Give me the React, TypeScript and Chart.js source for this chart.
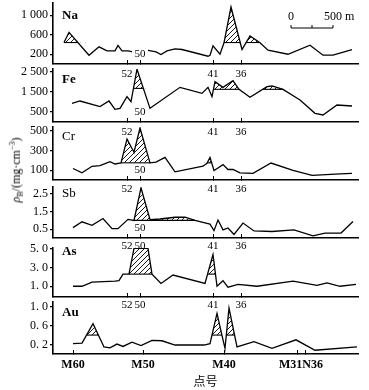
import React, { useEffect, useRef } from 'react';
import { Chart, registerables } from 'chart.js';

Chart.register(...registerables);

const SERIF = "'Liberation Serif', 'DejaVu Serif', serif";

// ---- x positions of samples along the profile (axis units) and element values ----
const NA_X = [11, 16, 36, 46, 54, 62, 65, 69, 75, 80, 94, 103, 108, 114, 122, 129, 155, 157, 160, 167, 171, 178, 189, 197, 207, 215, 235, 257, 270, 280, 299];
const NA_Y = [440, 649, 179, 351, 268, 268, 380, 268, 268, 248, 283, 248, 194, 268, 310, 297, 159, 180, 372, 200, 434, 1167, 297, 573, 434, 283, 200, 386, 180, 180, 297];

const FE_X = [19, 27, 47, 56, 62, 67, 74, 78, 84, 97, 127, 149, 155, 159, 162, 170, 180, 186, 197, 214, 219, 230, 247, 262, 270, 284, 299];
const FE_Y = [935, 1050, 767, 1050, 633, 683, 1267, 1017, 2640, 683, 1733, 1433, 1733, 1267, 2017, 1733, 2067, 1633, 1233, 1767, 1800, 1633, 1100, 433, 350, 850, 800];

const CR_X = [20, 29, 39, 47, 57, 62, 68, 74, 81, 87, 97, 103, 112, 122, 150, 154, 157, 161, 165, 170, 175, 180, 187, 200, 218, 240, 259, 287, 299];
const CR_Y = [117, 73, 140, 147, 187, 163, 175, 417, 283, 530, 175, 183, 230, 83, 140, 170, 230, 97, 123, 157, 107, 107, 73, 67, 173, 97, 47, 63, 67];

const SB_X = [20, 29, 39, 50, 59, 65, 75, 81, 88, 97, 107, 122, 132, 142, 154, 157, 161, 165, 170, 175, 181, 190, 201, 219, 241, 260, 272, 288, 300];
const SB_Y = [0.59, 0.92, 0.72, 1.11, 0.53, 0.53, 1.06, 1.0, 2.85, 1.05, 1.08, 1.18, 1.18, 1.0, 0.83, 0.79, 0.42, 1.02, 0.46, 0.57, 0.2, 0.85, 0.4, 0.37, 0.46, 0.12, 0.28, 0.28, 0.94];

const AS_X = [20, 29, 39, 62, 66, 70, 76, 81, 95, 99, 108, 120, 152, 160, 164, 170, 175, 185, 204, 240, 264, 274, 287, 303];
const AS_Y = [1.0, 1.0, 1.45, 1.55, 1.6, 2.3, 2.3, 5.05, 5.05, 2.3, 1.3, 2.2, 1.3, 4.4, 1.0, 1.6, 0.9, 1.2, 1.0, 1.55, 1.1, 1.37, 1.0, 1.2];

const AU_X = [20, 29, 40, 51, 57, 64, 70, 79, 88, 99, 109, 122, 151, 157, 164, 170, 172, 176, 184, 201, 219, 243, 262, 304];
const AU_Y = [0.22, 0.23, 0.64, 0.15, 0.13, 0.21, 0.16, 0.25, 0.18, 0.29, 0.28, 0.19, 0.19, 0.22, 0.86, 0.3, 0.12, 0.97, 0.15, 0.26, 0.12, 0.3, 0.08, 0.15];

// ---- anomaly (hatched) ranges: [from x, to x, threshold] ----
const NA_HATCH = [[11, 36, 440], [167, 189, 440], [189, 215, 440]];
const FE_HATCH = [[78, 97, 1680], [159, 186, 1633], [197, 247, 1633]];
const CR_HATCH = [[68, 97, 175], [150, 161, 175]];
const SB_HATCH = [[81, 142, 1.0]];
const AS_HATCH = [[76, 99, 2.3], [152, 164, 2.3]];
const AU_HATCH = [[29, 51, 0.4], [157, 172, 0.4], [172, 184, 0.4]];

// ---- y ticks ----
const NA_TICKS = [200, 600, 1000];
const NA_TICK_LABELS = ['200', '600', '1 000'];
const FE_TICKS = [500, 1500, 2500];
const FE_TICK_LABELS = ['500', '1 500', '2 500'];
const CR_TICKS = [100, 300, 500];
const CR_TICK_LABELS = ['100', '300', '500'];
const SB_TICKS = [0.5, 1.5, 2.5];
const SB_TICK_LABELS = ['0.5', '1.5', '2.5'];
const AS_TICKS = [1, 3, 5];
const AS_TICK_LABELS = ['1. 0', '3. 0', '5. 0'];
const AU_TICKS = [0.2, 0.6, 1.0];
const AU_TICK_LABELS = ['0. 2', '0. 6', '1. 0'];

// ---- sample point markers & bottom axis ----
const MARKER_X = [74, 87, 160, 188];
const MARKER_LABELS = ['52', '50', '41', '36'];
const AXIS_TICKS = [20, 90, 171, 244, 252];
const AXIS_LABEL_X = [20, 90, 171, 248];
const AXIS_LABELS = ['M60', 'M50', 'M40', 'M31N36'];
const X_MIN = 0;
const X_MAX = 305;
const SCALE_BAR_FROM = 238;
const SCALE_BAR_LEN = 42; // = 500 m

const PAD_TOP = 10;
const PAD_BOTTOM = 10;
const AU_AXIS_H = 35;

type Panel = {
  name: string; bold: boolean; xs: number[]; ys: number[]; hatches: number[][];
  min: number; max: number; ticks: number[]; tickLabels: string[];
  top: number; bottom: number; nameDy: number; topLabels: string[]; topDy: number;
  bottom50: boolean; last?: boolean; scaleBar?: boolean;
};

const PANELS: Panel[] = [
  { name: 'Na', bold: true, xs: NA_X, ys: NA_Y, hatches: NA_HATCH, min: 0, max: 1250, ticks: NA_TICKS, tickLabels: NA_TICK_LABELS, top: 3, bottom: 64, nameDy: 13, topLabels: [], topDy: 0, bottom50: true, scaleBar: true },
  { name: 'Fe', bold: true, xs: FE_X, ys: FE_Y, hatches: FE_HATCH, min: 0, max: 2650, ticks: FE_TICKS, tickLabels: FE_TICK_LABELS, top: 69, bottom: 122, nameDy: 11, topLabels: ['52', '41', '36'], topDy: 5.5, bottom50: true },
  { name: 'Cr', bold: false, xs: CR_X, ys: CR_Y, hatches: CR_HATCH, min: 0, max: 540, ticks: CR_TICKS, tickLabels: CR_TICK_LABELS, top: 127, bottom: 180, nameDy: 10, topLabels: ['52', '41', '36'], topDy: 5, bottom50: true },
  { name: 'Sb', bold: false, xs: SB_X, ys: SB_Y, hatches: SB_HATCH, min: 0, max: 2.9, ticks: SB_TICKS, tickLabels: SB_TICK_LABELS, top: 187, bottom: 238, nameDy: 7, topLabels: ['52', '41', '36'], topDy: 1.7, bottom50: true },
  { name: 'As', bold: true, xs: AS_X, ys: AS_Y, hatches: AS_HATCH, min: -0.15, max: 5.1, ticks: AS_TICKS, tickLabels: AS_TICK_LABELS, top: 248, bottom: 297, nameDy: 4, topLabels: ['52', '50', '41', '36'], topDy: -2, bottom50: false },
  { name: 'Au', bold: true, xs: AU_X, ys: AU_Y, hatches: AU_HATCH, min: 0, max: 1.1, ticks: AU_TICKS, tickLabels: AU_TICK_LABELS, top: 302, bottom: 354, nameDy: 11, topLabels: ['52', '50', '41', '36'], topDy: 2.7, bottom50: false, last: true },
];

function canvasHeight(p: Panel) {
  return PAD_TOP + (p.bottom - p.top) + (p.last ? AU_AXIS_H : PAD_BOTTOM);
}

function makeHatch(): CanvasPattern | string {
  const s = 5;
  const c = document.createElement('canvas');
  c.width = s; c.height = s;
  const g = c.getContext('2d');
  if (!g) return '#888';
  g.strokeStyle = '#000';
  g.lineWidth = 0.9;
  g.beginPath();
  g.moveTo(0, s); g.lineTo(s, 0);
  g.moveTo(-1, 1); g.lineTo(1, -1);
  g.moveTo(s - 1, s + 1); g.lineTo(s + 1, s - 1);
  g.stroke();
  return g.createPattern(c, 'repeat') || '#888';
}

type Pt = { x: number; y: number };
const lerpX = (p: Pt, q: Pt, lvl: number) => p.x + ((lvl - p.y) * (q.x - p.x)) / (q.y - p.y);

function crossings(pts: Pt[], a: number, b: number, lvl: number): [number, number] {
  const seg = pts.filter((q) => q.x >= a && q.x <= b);
  let s = seg[0].x;
  let e = seg[seg.length - 1].x;
  for (let k = 0; k < seg.length; k++) {
    if (seg[k].y >= lvl) { s = k === 0 ? seg[0].x : lerpX(seg[k - 1], seg[k], lvl); break; }
  }
  for (let k = seg.length - 1; k >= 0; k--) {
    if (seg[k].y >= lvl) { e = k === seg.length - 1 ? seg[k].x : lerpX(seg[k], seg[k + 1], lvl); break; }
  }
  return [s, e];
}

function makeAnnot(p: Panel) {
  return {
    id: 'annot',
    afterDraw(chart: any) {
      const { ctx, chartArea: a, scales } = chart;
      const x = scales.x;
      ctx.save();
      ctx.fillStyle = '#000';
      ctx.strokeStyle = '#000';
      ctx.textBaseline = 'middle';
      ctx.textAlign = 'left';
      ctx.font = `${p.bold ? 'bold ' : ''}13px ${SERIF}`;
      ctx.fillText(p.name, a.left + 9, a.top + p.nameDy);

      ctx.font = `11px ${SERIF}`;
      ctx.textAlign = 'center';
      p.topLabels.forEach((lbl) => {
        const i = MARKER_LABELS.indexOf(lbl);
        ctx.fillText(lbl, x.getPixelForValue(MARKER_X[i]), a.top + p.topDy);
      });
      if (p.bottom50) {
        const px = x.getPixelForValue(MARKER_X[1]);
        const py = a.bottom - 10;
        if (p.scaleBar) {
          ctx.fillStyle = '#fff';
          ctx.fillRect(px - 8, py - 6, 16, 12);
          ctx.fillStyle = '#000';
        }
        ctx.fillText('50', px, py);
      }
      if (p.scaleBar) {
        const x0 = x.getPixelForValue(SCALE_BAR_FROM);
        const x1 = x.getPixelForValue(SCALE_BAR_FROM + SCALE_BAR_LEN);
        const xm = x.getPixelForValue(SCALE_BAR_FROM + SCALE_BAR_LEN / 2);
        const yb = a.top + 25;
        ctx.lineWidth = 1;
        ctx.beginPath();
        ctx.moveTo(x0, yb); ctx.lineTo(x1, yb);
        [x0, xm, x1].forEach((t) => { ctx.moveTo(t, yb); ctx.lineTo(t, yb - 3); });
        ctx.stroke();
        ctx.font = `12px ${SERIF}`;
        ctx.fillText('0', x0, yb - 11);
        const w = ctx.measureText('500').width;
        ctx.textAlign = 'left';
        ctx.fillText('500 m', x1 - w / 2, yb - 11);
      }
      ctx.restore();
    },
  };
}

function buildConfig(p: Panel, hatch: CanvasPattern | string): any {
  const pts: Pt[] = p.xs.map((x, i) => ({ x, y: p.ys[i] }));
  const datasets: any[] = [
    { data: pts, borderColor: '#000', borderWidth: 1.3, pointRadius: 0, fill: false, tension: 0, order: 0 },
  ];
  p.hatches.forEach(([a, b, lvl]) => {
    datasets.push({
      data: pts.filter((q) => q.x >= a && q.x <= b),
      borderColor: 'rgba(0,0,0,0)', borderWidth: 1, pointRadius: 0, backgroundColor: hatch,
      fill: { value: lvl, above: hatch, below: 'rgba(0,0,0,0)' }, order: 2,
    });
    const [c1, c2] = crossings(pts, a, b, lvl);
    datasets.push({
      data: [{ x: c1, y: lvl }, { x: c2, y: lvl }],
      borderColor: '#000', borderWidth: 1.1, pointRadius: 0, fill: false, order: 1,
    });
  });

  const xScale: any = p.last
    ? {
        type: 'linear', min: X_MIN, max: X_MAX,
        afterBuildTicks: (s: any) => {
          const vals = Array.from(new Set([...AXIS_TICKS, ...AXIS_LABEL_X])).sort((m, n) => m - n);
          s.ticks = vals.map((v) => ({ value: v }));
        },
        ticks: {
          display: true, autoSkip: false, maxRotation: 0, minRotation: 0, padding: 8, color: '#000',
          font: { family: SERIF, size: 12, weight: 'bold' },
          callback: (v: number) => { const i = AXIS_LABEL_X.indexOf(v); return i >= 0 ? AXIS_LABELS[i] : ''; },
        },
        grid: {
          display: true, drawOnChartArea: false, tickLength: -4, color: '#000', lineWidth: 1,
          tickColor: (c: any) => (c.tick && AXIS_TICKS.indexOf(c.tick.value) < 0 ? 'rgba(0,0,0,0)' : '#000'),
        },
        border: { display: true, color: '#000', width: 1.6 },
        title: { display: true, text: '点号', color: '#000', font: { family: "'Noto Sans CJK SC', sans-serif", size: 12 }, padding: { top: 0, bottom: 0 } },
        afterFit: (s: any) => { s.height = AU_AXIS_H; },
      }
    : {
        type: 'linear', min: X_MIN, max: X_MAX,
        afterBuildTicks: (s: any) => { s.ticks = MARKER_X.map((v) => ({ value: v })); },
        ticks: { display: false },
        grid: { display: true, drawOnChartArea: false, tickLength: -4, color: '#000', lineWidth: 1 },
        border: { display: true, color: '#000', width: 1.6 },
        afterFit: (s: any) => { s.height = PAD_BOTTOM; },
      };

  return {
    type: 'line',
    data: { datasets },
    options: {
      responsive: false, maintainAspectRatio: false, animation: false, events: [],
      layout: { padding: { top: PAD_TOP, right: 11, left: 0, bottom: 0 } },
      plugins: { legend: { display: false }, tooltip: { enabled: false } },
      scales: {
        x: xScale,
        y: {
          type: 'linear', min: p.min, max: p.max,
          afterBuildTicks: (s: any) => { s.ticks = p.ticks.map((v) => ({ value: v })); },
          ticks: { autoSkip: false, padding: 2, color: '#000', font: { family: SERIF, size: 12 }, callback: (_v: any, i: number) => p.tickLabels[i] },
          grid: { display: true, drawOnChartArea: false, tickLength: 3, color: '#000', lineWidth: 1.2 },
          border: { display: true, color: '#000', width: 1.6 },
          afterFit: (s: any) => { s.width = 53; },
        },
      },
    },
    plugins: [makeAnnot(p)],
  };
}

export default function App() {
  const refs = useRef<(HTMLCanvasElement | null)[]>([]);
  useEffect(() => {
    const hatch = makeHatch();
    const charts = PANELS.map((p, i) => new Chart(refs.current[i] as HTMLCanvasElement, buildConfig(p, hatch)));
    return () => charts.forEach((c) => c.destroy());
  }, []);
  return (
    <div style={{ position: 'fixed', left: 0, top: 0, width: 369, height: 390, background: '#fff', overflow: 'hidden' }}>
      {PANELS.map((p, i) => (
        <canvas
          key={p.name}
          ref={(el) => { refs.current[i] = el; }}
          width={369}
          height={canvasHeight(p)}
          style={{ position: 'absolute', left: 0, top: p.top - PAD_TOP, width: 369, height: canvasHeight(p) }}
        />
      ))}
      <div
        style={{
          position: 'absolute', left: 17, top: 170, transform: 'translate(-50%, -50%) rotate(-90deg)',
          whiteSpace: 'nowrap', fontFamily: SERIF, fontSize: 12, lineHeight: 1, color: '#000',
        }}
      >
        <i>ρ</i><sub style={{ fontSize: 8 }}>B</sub>/(mg·cm<sup style={{ fontSize: 8 }}>−3</sup>)
      </div>
    </div>
  );
}
